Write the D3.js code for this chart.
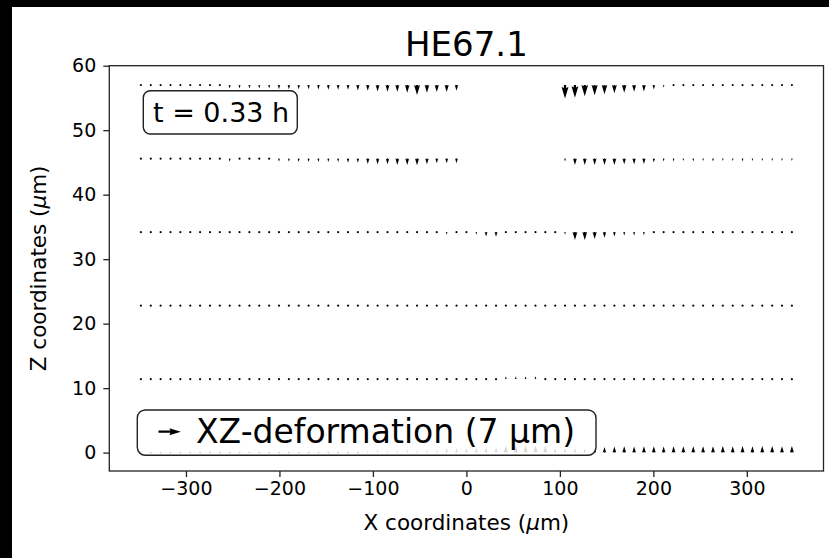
<!DOCTYPE html>
<html><head><meta charset="utf-8">
<script src="https://cdn.jsdelivr.net/npm/d3@7"></script>
<style>body{margin:0;background:#000;} svg{display:block;font-family:"DejaVu Sans",sans-serif;}</style>
</head><body>
<svg id="c" width="829" height="558"></svg>
<script>
const chartTitle = "HE67.1";
const timeLabel = "t = 0.33 h";
const keyLabel = "XZ-deformation (7 µm)";
const keyLength = 7;
const xTicks = [-300, -200, -100, 0, 100, 200, 300];
const zTicks = [0, 10, 20, 30, 40, 50, 60];
const xPositions = [-348.2,-337.6,-327.1,-316.5,-306.0,-295.4,-284.9,-274.3,-263.8,-253.2,-242.7,-232.1,-221.6,-211.0,-200.5,-189.9,-179.4,-168.8,-158.3,-147.7,-137.2,-126.6,-116.1,-105.5,-95.0,-84.4,-73.9,-63.3,-52.8,-42.2,-31.7,-21.1,-10.6,0.0,10.6,21.1,31.7,42.2,52.8,63.3,73.9,84.4,95.0,105.5,116.1,126.6,137.2,147.7,158.3,168.8,179.4,189.9,200.5,211.0,221.6,232.1,242.7,253.2,263.8,274.3,284.9,295.4,306.0,316.5,327.1,337.6,348.2];
const zLevels = [0, 11.4, 22.8, 34.2, 45.6, 57.0];
// vertical displacement (µm) per row; null = no measurement
const dz_row0 = [0.6,0.7,0.6,0.7,0.7,0.6,0.7,0.7,0.6,0.7,0.7,0.7,0.6,0.7,0.7,0.7,0.7,0.6,0.7,0.7,0.7,0.7,0.7,0.8,1.0,0.9,0.9,1.0,0.9,1.0,1.0,1.4,1.4,1.4,1.5,1.6,1.6,2.2,2.2,2.3,2.2,2.1,1.4,1.4,1.4,1.2,1.4,1.8,1.9,2.0,1.9,2.0,2.0,1.9,2.0,2.0,2.0,2.0,2.0,2.1,2.0,2.1,2.0,2.1,2.1,2.0,2.1];
const dz_row1 = [0.2,0.2,0.2,0.2,0.2,0.2,0.2,0.2,0.2,0.2,0.2,0.2,0.2,0.55,0.2,0.2,0.2,0.2,0.2,0.2,0.2,0.2,0.2,0.2,0.55,0.2,0.55,0.2,0.2,0.2,0.2,0.2,0.55,0.6,0.6,0.6,0.2,0.9,0.9,0.9,0.9,0.2,-0.3,-0.3,-0.3,-0.3,-0.3,-0.3,-0.3,0.2,0.2,0.2,0.7,0.6,0.6,0.7,0.6,0.6,0.7,0.6,0.6,0.7,0.6,0.6,0.6,0.6,0.7];
const dz_row2 = [-0.2,-0.2,-0.2,-0.2,-0.2,-0.2,-0.2,-0.2,-0.2,-0.2,-0.2,-0.2,-0.2,-0.2,-0.2,-0.2,-0.2,-0.2,-0.2,-0.2,-0.2,-0.2,-0.2,-0.2,-0.2,-0.2,-0.2,-0.2,-0.2,-0.2,-0.2,-0.6,-0.2,-0.2,-0.2,-0.2,-0.2,-0.2,-0.2,-0.2,-0.2,-0.2,-0.2,-0.6,-0.6,-0.6,-0.2,-0.2,-0.2,-0.2,-0.2,-0.2,-0.2,-0.2,-0.2,-0.2,-0.2,-0.2,-0.2,-0.2,-0.2,-0.2,-0.2,-0.2,-0.2,-0.2,-0.2];
const dz_row3 = [-0.2,-0.2,-0.2,-0.2,-0.2,-0.2,-0.2,-0.2,-0.2,-0.2,-0.2,-0.2,-0.2,-0.2,-0.2,-0.2,-0.2,-0.2,-0.2,-0.2,-0.2,-0.2,-0.2,-0.2,-0.2,-0.2,-0.2,-0.2,-0.2,-0.2,-0.2,-0.8,-0.2,-0.2,-0.8,-1.4,-1.5,-0.6,-0.2,-0.2,-0.2,-0.2,-0.2,-0.8,-2.5,-2.5,-2.2,-1.8,-1.4,-1.1,-1.1,-1.0,-0.7,-0.2,-0.2,-0.2,-0.2,-0.2,-0.2,-0.2,-0.2,-0.2,-0.2,-0.2,-0.2,-0.2,-0.2];
const dz_row4 = [-0.2,-0.2,-0.2,-0.2,-0.2,-0.2,-0.2,-0.2,-0.2,-1.0,-0.4,-0.4,-0.6,-0.6,-1.0,-1.0,-1.1,-1.1,-1.1,-1.1,-1.1,-1.3,-1.3,-1.7,-1.8,-1.8,-2.0,-2.0,-2.1,-1.8,-1.5,-1.5,-1.5,null,null,null,null,null,null,null,null,null,null,-0.9,-2.0,-2.0,-2.0,-2.0,-2.0,-1.8,-1.8,-1.7,-1.2,-0.9,-0.9,-0.8,-0.9,-0.8,-0.9,-0.8,-0.8,-0.9,-0.8,-0.8,-0.8,-0.8,-0.8];
const dz_row5 = [-0.2,-0.2,-0.2,-0.2,-0.2,-0.4,-0.2,-0.2,-0.4,-1.1,-1.1,-1.1,-1.1,-1.1,-1.3,-1.3,-1.3,-1.3,-1.4,-1.5,-1.5,-1.5,-1.7,-1.8,-2.0,-2.1,-2.1,-2.4,-3.1,-2.4,-2.2,-2.2,-1.8,null,null,null,null,null,null,null,null,null,null,-4.2,-4.0,-3.5,-3.2,-2.9,-2.6,-2.4,-2.1,-2.0,-1.4,-0.8,-0.7,-0.7,-0.6,-0.7,-0.6,-0.7,-0.6,-0.7,-0.6,-0.7,-0.6,-0.7,-0.7];
const rows = [dz_row0, dz_row1, dz_row2, dz_row3, dz_row4, dz_row5];

const W = 829, H = 558;
const svg = d3.select("#c");
svg.append("rect").attr("x", 12).attr("y", 7).attr("width", W - 12).attr("height", H - 7).attr("fill", "#fff");

const plot = {left: 109.3, right: 823.5, top: 65.7, bottom: 471};
const x = d3.scaleLinear().domain([-382, 382]).range([plot.left, plot.right]);
const y = d3.scaleLinear().domain([-2.85, 60]).range([plot.bottom, plot.top]);
const pxPerUm = 3.19;   // arrow length scale
const shaftW = 2.3;     // arrow shaft width in px

// matplotlib-like arrow polygon
function arrowPath(cx, cy, u, w) {
  const Lpx = Math.hypot(u, w) * pxPerUm;
  const len = Lpx / shaftW;
  let X, Y;
  if (len < 1) {
    X = []; Y = [];
    for (let k = 0; k < 8; k++) { X.push(Math.cos(k * Math.PI / 3) * 0.5); Y.push(Math.sin(k * Math.PI / 3) * 0.5); }
  } else if (len < 5) {
    const s = len / 5;
    X = [0, 0.5, 0, 5, 0, 0.5, 0, 0].map(v => v * s);
    Y = [0.5, 0.5, 1.5, 0, -1.5, -0.5, -0.5, 0.5].map(v => v * s);
  } else {
    X = [0, len - 4.5, len - 5, len, len - 5, len - 4.5, 0, 0];
    Y = [0.5, 0.5, 1.5, 0, -1.5, -0.5, -0.5, 0.5];
  }
  const th = Math.atan2(-w, u);
  const c = Math.cos(th), s = Math.sin(th);
  const pts = X.map((xv, i) => {
    const a = xv * shaftW, b = Y[i] * shaftW;
    return [cx + a * c - b * s, cy + a * s + b * c];
  });
  return "M" + pts.map(p => p[0].toFixed(2) + "," + p[1].toFixed(2)).join("L") + "Z";
}

const g = svg.append("g");
rows.forEach((vals, r) => {
  vals.forEach((v, i) => {
    if (v === null) return;
    g.append("path").attr("d", arrowPath(x(xPositions[i]), y(zLevels[r]), 0, v)).attr("fill", "#000");
  });
});

// axes
const xAxis = d3.axisBottom(x).tickValues(xTicks).tickSize(6).tickPadding(5)
  .tickFormat(d => (d < 0 ? "\u2212" + Math.abs(d) : d));
const yAxis = d3.axisLeft(y).tickValues(zTicks).tickSize(6).tickPadding(7);
const gx = svg.append("g").attr("transform", `translate(0,${plot.bottom})`).call(xAxis);
const gy = svg.append("g").attr("transform", `translate(${plot.left},0)`).call(yAxis);
[gx, gy].forEach(a => {
  a.select(".domain").remove();
  a.selectAll(".tick line").attr("stroke", "#222").attr("stroke-width", 1.3);
  a.selectAll(".tick text").attr("font-family", "DejaVu Sans").attr("font-size", 19).attr("fill", "#000");
});
svg.append("rect").attr("x", plot.left).attr("y", plot.top).attr("width", plot.right - plot.left)
  .attr("height", plot.bottom - plot.top).attr("fill", "none").attr("stroke", "#222").attr("stroke-width", 1.3);

// title and labels
svg.append("text").attr("x", (plot.left + plot.right) / 2).attr("y", 56).attr("text-anchor", "middle")
  .attr("font-size", 34).text(chartTitle);
const xl = svg.append("text").attr("x", (plot.left + plot.right) / 2).attr("y", 530).attr("text-anchor", "middle").attr("font-size", 21.5);
xl.append("tspan").text("X coordinates (");
xl.append("tspan").attr("font-style", "italic").text("µ");
xl.append("tspan").text("m)");
const yl = svg.append("text").attr("transform", `translate(46,${(plot.top + plot.bottom) / 2}) rotate(-90)`).attr("text-anchor", "middle").attr("font-size", 21.5);
yl.append("tspan").text("Z coordinates (");
yl.append("tspan").attr("font-style", "italic").text("µ");
yl.append("tspan").text("m)");

// time box
svg.append("rect").attr("x", 143.3).attr("y", 90.7).attr("width", 154).attr("height", 43.3).attr("rx", 7)
  .attr("fill", "#fff").attr("fill-opacity", 0.85).attr("stroke", "#222").attr("stroke-width", 1.4);
svg.append("text").attr("x", 153).attr("y", 121.5).attr("font-size", 27).text(timeLabel);

// key box
svg.append("rect").attr("x", 137.3).attr("y", 410).attr("width", 458.7).attr("height", 45.3).attr("rx", 8)
  .attr("fill", "#fff").attr("fill-opacity", 0.85).attr("stroke", "#222").attr("stroke-width", 1.4);
svg.append("path").attr("d", arrowPath(158.5, 431.7, keyLength, 0)).attr("fill", "#000");
svg.append("text").attr("x", 196).attr("y", 443).attr("font-size", 33).text(keyLabel);
</script>
</body></html>
